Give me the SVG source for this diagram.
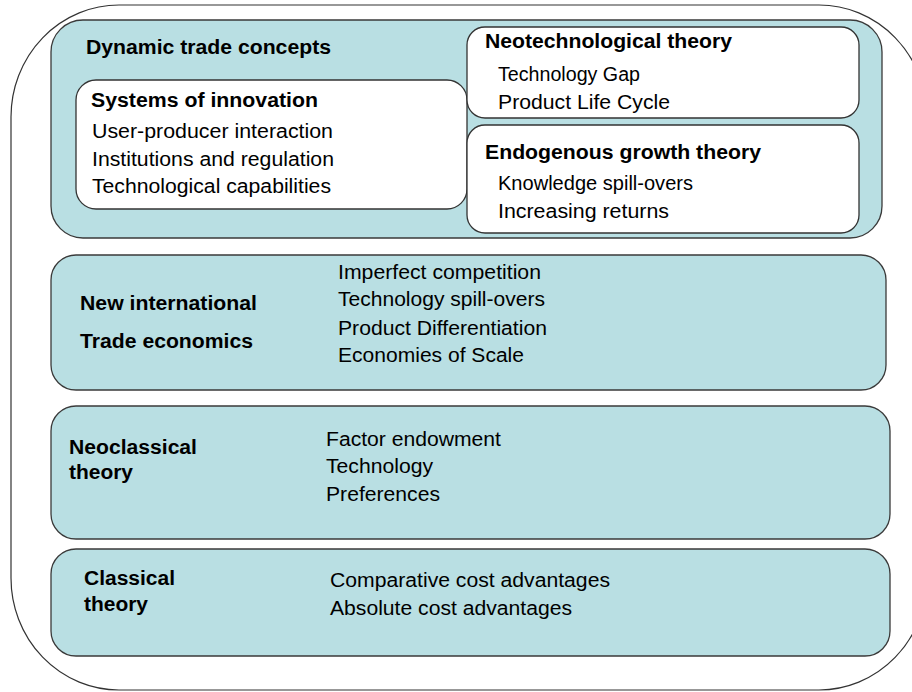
<svg xmlns="http://www.w3.org/2000/svg" width="912" height="692" viewBox="0 0 912 692">
<style>
.outer{fill:#ffffff;stroke:#333333;stroke-width:1.2}
.band{fill:#b9dfe3;stroke:#3a3a3a;stroke-width:1.3}
.inner{fill:#ffffff;stroke:#333333;stroke-width:1.3}
text{font-family:"Liberation Sans",Arial,sans-serif;fill:#000000}
.b{font-weight:bold;font-size:20px}
.r{font-size:20px}
</style>
<rect width="912" height="692" fill="#ffffff"/>
<g id="outer-frame">
<rect class="outer" x="11" y="5" width="916" height="685" rx="108" ry="112"/>
</g>
<g id="connectors"></g>
<g id="dynamic-trade-concepts">
<rect class="band" x="51" y="20" width="831" height="218" rx="32" ry="32"/>
<text class="b" x="86" y="54" textLength="245" lengthAdjust="spacingAndGlyphs">Dynamic trade concepts</text>
</g>
<g id="systems-of-innovation">
<rect class="inner" x="76" y="80" width="391" height="129" rx="20" ry="20"/>
<text class="b" x="91" y="107" textLength="227" lengthAdjust="spacingAndGlyphs">Systems of innovation</text>
<text class="r" x="92" y="138" textLength="241" lengthAdjust="spacingAndGlyphs">User-producer interaction</text>
<text class="r" x="92" y="166" textLength="242" lengthAdjust="spacingAndGlyphs">Institutions and regulation</text>
<text class="r" x="92" y="193" textLength="239" lengthAdjust="spacingAndGlyphs">Technological capabilities</text>
</g>
<g id="neotechnological-theory">
<rect class="inner" x="467" y="27" width="392" height="91" rx="18" ry="18"/>
<text class="b" x="485" y="48" textLength="247" lengthAdjust="spacingAndGlyphs">Neotechnological theory</text>
<text class="r" x="498" y="81" textLength="142" lengthAdjust="spacingAndGlyphs">Technology Gap</text>
<text class="r" x="498" y="109" textLength="172" lengthAdjust="spacingAndGlyphs">Product Life Cycle</text>
</g>
<g id="endogenous-growth-theory">
<rect class="inner" x="467" y="125" width="392" height="108" rx="18" ry="18"/>
<text class="b" x="485" y="159" textLength="276" lengthAdjust="spacingAndGlyphs">Endogenous growth theory</text>
<text class="r" x="498" y="190" textLength="195" lengthAdjust="spacingAndGlyphs">Knowledge spill-overs</text>
<text class="r" x="498" y="218" textLength="171" lengthAdjust="spacingAndGlyphs">Increasing returns</text>
</g>
<g id="new-international-trade-economics">
<rect class="band" x="51" y="255" width="835" height="135" rx="25" ry="25"/>
<text class="b" x="80" y="310" textLength="177" lengthAdjust="spacingAndGlyphs">New international</text>
<text class="b" x="80" y="348" textLength="173" lengthAdjust="spacingAndGlyphs">Trade economics</text>
<text class="r" x="338" y="279" textLength="203" lengthAdjust="spacingAndGlyphs">Imperfect competition</text>
<text class="r" x="338" y="306" textLength="207" lengthAdjust="spacingAndGlyphs">Technology spill-overs</text>
<text class="r" x="338" y="335" textLength="209" lengthAdjust="spacingAndGlyphs">Product Differentiation</text>
<text class="r" x="338" y="362" textLength="186" lengthAdjust="spacingAndGlyphs">Economies of Scale</text>
</g>
<g id="neoclassical-theory">
<rect class="band" x="51" y="406" width="839" height="133" rx="25" ry="25"/>
<text class="b" x="69" y="454" textLength="128" lengthAdjust="spacingAndGlyphs">Neoclassical</text>
<text class="b" x="69" y="479" textLength="64" lengthAdjust="spacingAndGlyphs">theory</text>
<text class="r" x="326" y="446" textLength="175" lengthAdjust="spacingAndGlyphs">Factor endowment</text>
<text class="r" x="326" y="473" textLength="107" lengthAdjust="spacingAndGlyphs">Technology</text>
<text class="r" x="326" y="501" textLength="114" lengthAdjust="spacingAndGlyphs">Preferences</text>
</g>
<g id="classical-theory">
<rect class="band" x="51" y="549" width="839" height="107" rx="25" ry="25"/>
<text class="b" x="84" y="585" textLength="91" lengthAdjust="spacingAndGlyphs">Classical</text>
<text class="b" x="84" y="611" textLength="64" lengthAdjust="spacingAndGlyphs">theory</text>
<text class="r" x="330" y="587" textLength="280" lengthAdjust="spacingAndGlyphs">Comparative cost advantages</text>
<text class="r" x="330" y="615" textLength="242" lengthAdjust="spacingAndGlyphs">Absolute cost advantages</text>
</g>
</svg>
